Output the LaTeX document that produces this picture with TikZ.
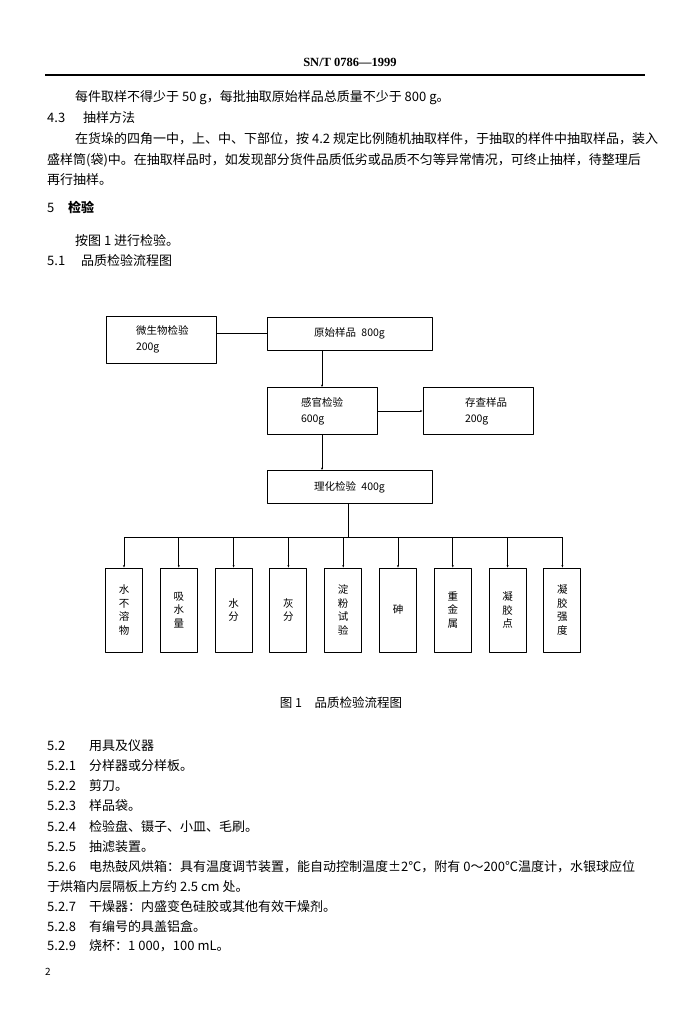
\documentclass[tikz,border=0pt]{standalone}
\usepackage{fontspec}
\setmainfont{Noto Sans CJK SC}
\newfontfamily\hdfont{Liberation Serif}
\usetikzlibrary{arrows.meta}
\begin{document}
\begin{tikzpicture}[x=1pt, y=-1pt, >={Stealth[length=2.5pt,width=2pt]}, line join=round, font=\fontsize{13}{15}\selectfont]
			\useasboundingbox (0,0) rectangle (684,1024);
			\tikzset{
				txt/.style={anchor=base west, inner sep=0pt},
				box/.style={draw, line width=0.9pt, minimum width=110pt, minimum height=47pt, inner sep=0pt, align=left, font=\fontsize{10.5}{16}\selectfont},
				wbox/.style={box, minimum width=165pt, minimum height=33pt},
				tbox/.style={draw, line width=0.9pt, minimum width=37pt, minimum height=84pt, inner sep=0pt, align=center, font=\fontsize{10.5}{13.5}\selectfont}
			}
			\def\lab#1{\makebox[42pt][l]{#1}}
			\node [inner sep=0pt, font=\hdfont\bfseries\fontsize{12.5}{14}\selectfont] (head) at (350,62) {SN/T 0786—1999};
			\draw [line width=1.2pt] (45,75) -- (645,75);
			\node [txt] (l1) at (75,102) {每件取样不得少于 50 g，每批抽取原始样品总质量不少于 800 g。};
			\node [txt] (l2) at (47,123) {\makebox[36pt][l]{4.3}抽样方法};
			\node [txt] (l3) at (75,144) {在货垛的四角一中，上、中、下部位，按 4.2 规定比例随机抽取样件，于抽取的样件中抽取样品，装入};
			\node [txt] (l4) at (47,165) {盛样筒(袋)中。在抽取样品时，如发现部分货件品质低劣或品质不匀等异常情况，可终止抽样，待整理后};
			\node [txt] (l5) at (47,185) {再行抽样。};
			\node [txt] (l6) at (47,213) {\makebox[21pt][l]{5}\textbf{检验}};
			\node [txt] (l7) at (75,245) {按图 1 进行检验。};
			\node [txt] (l8) at (47,265) {\makebox[34pt][l]{5.1}品质检验流程图};
			\node [box, text width=50pt] (mic) at (161,339.5) {微生物检验\\200g};
			\node [wbox, align=center] (ori) at (349.5,333.5) {原始样品\enspace 800g};
			\node [box, text width=42pt] (sen) at (322,411) {感官检验\\600g};
			\node [box, text width=42pt] (sto) at (478,411) {\hspace*{8pt}存查样品\\\hspace*{8pt}200g};
			\node [wbox, align=center] (lh) at (349.5,487) {理化检验\enspace 400g};
			\coordinate (bus) at (348,537);
			\draw [line width=0.8pt] (mic.east |- ori.west) -- (ori.west);
			\draw [line width=0.8pt, ->] (sen.north |- ori.south) -- (sen.north);
			\draw [line width=0.8pt, ->] (sen.east) -- (sto.west);
			\draw [line width=0.8pt, ->] (sen.south) -- (sen.south |- lh.north);
			\foreach \i/\t in {0/{水\\不\\溶\\物}, 1/{吸\\水\\量}, 2/{水\\分}, 3/{灰\\分}, 4/{淀\\粉\\试\\验}, 5/{砷}, 6/{重\\金\\属}, 7/{凝\\胶\\点}, 8/{凝\\胶\\强\\度}}
				\node [tbox] (t\i) at (124+54.8*\i,610) {\t};
			\draw [line width=0.8pt] (lh.south -| bus) -- (bus);
			\draw [line width=0.8pt] (t0.north |- bus) -- (t8.north |- bus);
			\foreach \i in {0,...,8}
				\draw [line width=0.8pt, ->] (t\i.north |- bus) -- (t\i.north);
			\node [inner sep=0pt, font=\fontsize{12.5}{14}\selectfont] (cap) at (341,703) {图 1\quad 品质检验流程图};
			\node [txt] (m0) at (47,750) {\lab{5.2}用具及仪器};
			\node [txt] (m1) at (47,770) {\lab{5.2.1}分样器或分样板。};
			\node [txt] (m2) at (47,790) {\lab{5.2.2}剪刀。};
			\node [txt] (m3) at (47,810) {\lab{5.2.3}样品袋。};
			\node [txt] (m4) at (47,831) {\lab{5.2.4}检验盘、镊子、小皿、毛刷。};
			\node [txt] (m5) at (47,851) {\lab{5.2.5}抽滤装置。};
			\node [txt] (m6) at (47,871) {\lab{5.2.6}电热鼓风烘箱：具有温度调节装置，能自动控制温度±2℃，附有 0～200℃温度计，水银球应位};
			\node [txt] (m7) at (47,891) {于烘箱内层隔板上方约 2.5 cm 处。};
			\node [txt] (m8) at (47,911) {\lab{5.2.7}干燥器：内盛变色硅胶或其他有效干燥剂。};
			\node [txt] (m9) at (47,931) {\lab{5.2.8}有编号的具盖铝盒。};
			\node [txt] (m10) at (47,950) {\lab{5.2.9}烧杯：1 000，100 mL。};
			\node [txt, font=\fontsize{10}{12}\selectfont] (pg) at (45,975) {2};
		\end{tikzpicture}
\end{document}
